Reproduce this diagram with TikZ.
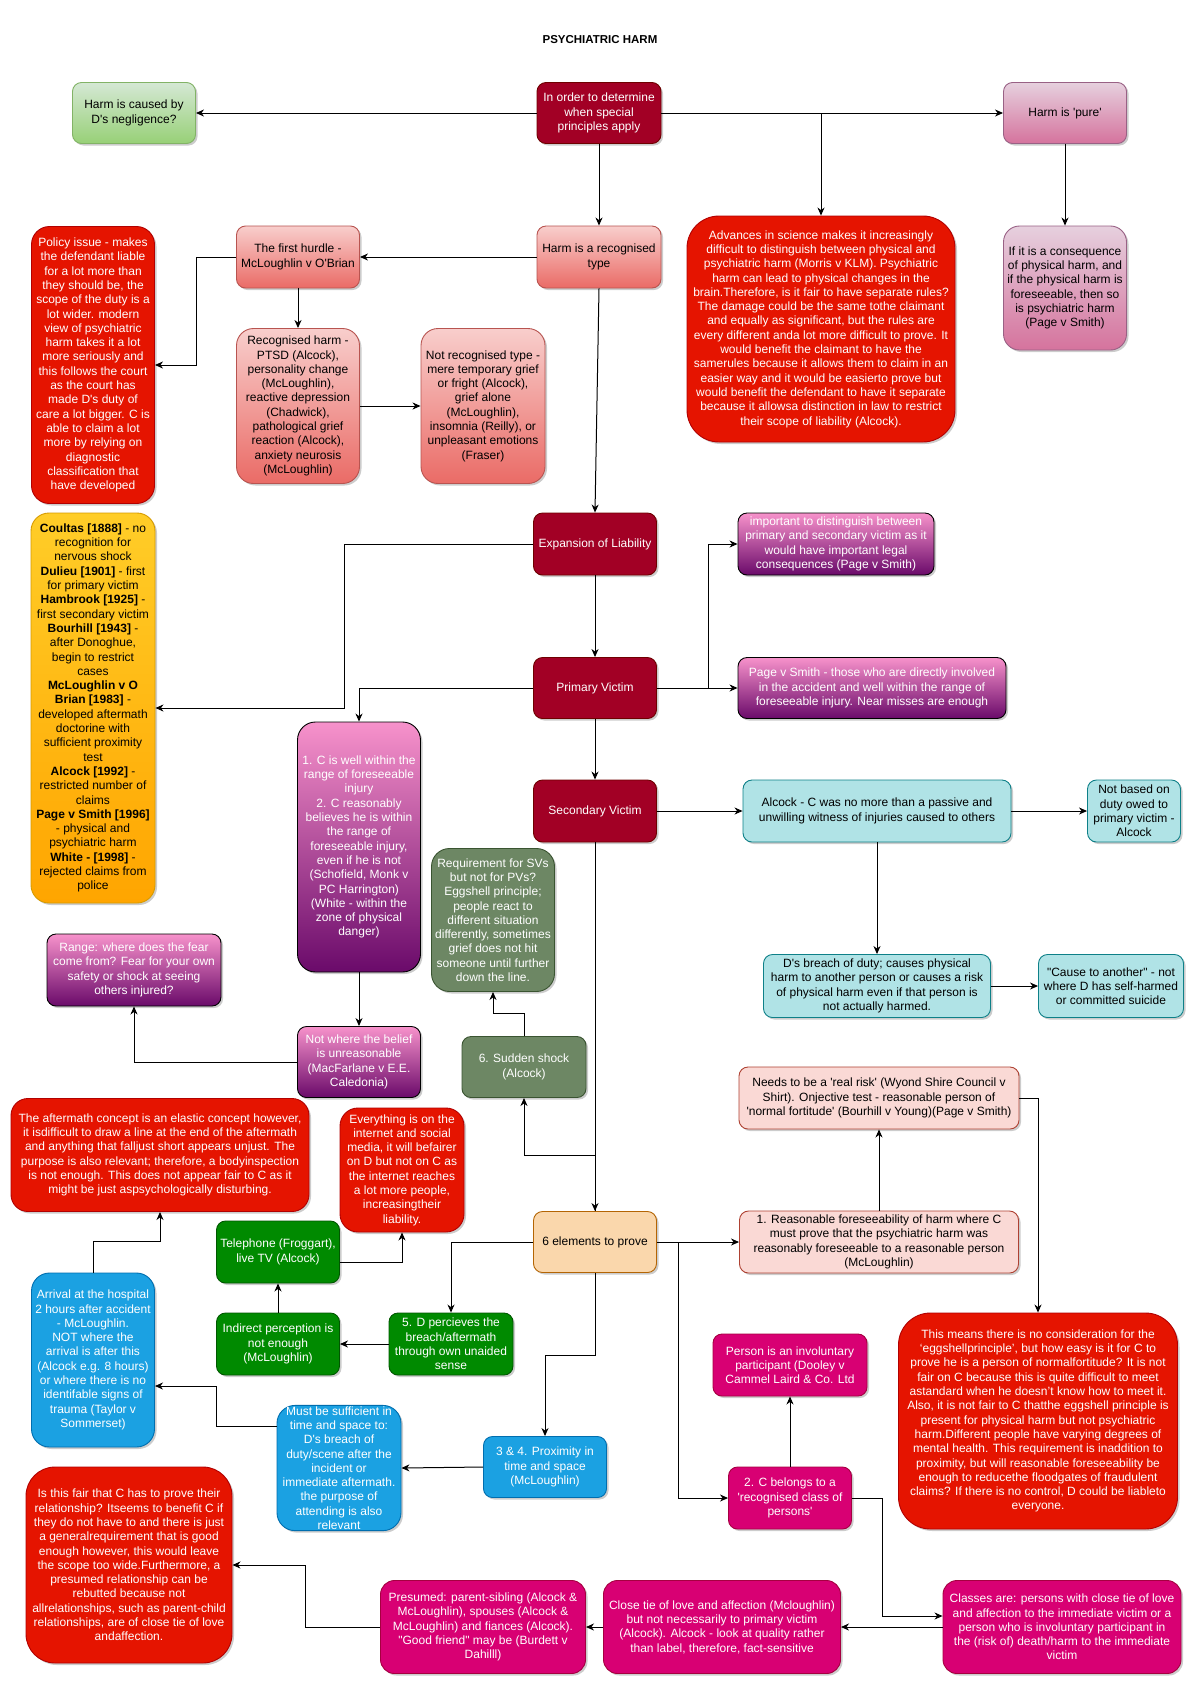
\documentclass[tikz,border=0pt]{standalone}
\usepackage{fontspec}
\newfontfamily\diafont{Liberation Sans}
\usetikzlibrary{arrows.meta,shadows}
% couleurs des boites
\definecolor{wine}{HTML}{A20025}   \definecolor{wineline}{HTML}{6F0000}
\definecolor{greenA}{HTML}{D5E8D4} \definecolor{greenB}{HTML}{97D077} \definecolor{greenL}{HTML}{82B366}
\definecolor{salA}{HTML}{F8CECC}   \definecolor{salB}{HTML}{EA6B66}   \definecolor{salL}{HTML}{B85450}
\definecolor{redF}{HTML}{E51400}   \definecolor{redL}{HTML}{B20000}
\definecolor{mauA}{HTML}{E6D0DE}   \definecolor{mauB}{HTML}{D5739D}   \definecolor{mauL}{HTML}{996185}
\definecolor{yelA}{HTML}{FFCD28}   \definecolor{yelB}{HTML}{FFA500}   \definecolor{yelL}{HTML}{D79B00}
\definecolor{pinkA}{HTML}{F792CB}  \definecolor{purpB}{HTML}{6A0A6A}
\definecolor{tealF}{HTML}{B0E3E6}  \definecolor{tealL}{HTML}{0E8088}
\definecolor{sageF}{HTML}{6D8764}  \definecolor{sageL}{HTML}{3A5431}
\definecolor{grnF}{HTML}{008A00}   \definecolor{grnL}{HTML}{005700}
\definecolor{bluF}{HTML}{1BA1E2}   \definecolor{bluL}{HTML}{006EAF}
\definecolor{peachF}{HTML}{FAD7AC} \definecolor{peachL}{HTML}{B46504}
\definecolor{roseF}{HTML}{FAD9D5}  \definecolor{roseL}{HTML}{AE4132}
\definecolor{magF}{HTML}{D80073}   \definecolor{magL}{HTML}{A50040}
\tikzset{
  bx/.style={draw,line width=0.9pt,align=center,inner sep=1pt,rounded corners=9pt,
    drop shadow={shadow xshift=2pt,shadow yshift=-2pt,fill=black,opacity=.2}},
  sz/.style 2 args={minimum width=#1pt,minimum height=#2pt},
  winebox/.style={bx,fill=wine,draw=wineline,text=white},
  greenbox/.style={bx,top color=greenA,bottom color=greenB,draw=greenL},
  salbox/.style={bx,top color=salA,bottom color=salB,draw=salL},
  redbox/.style={bx,fill=redF,draw=redL,text=white},
  maubox/.style={bx,top color=mauA,bottom color=mauB,draw=mauL},
  yelbox/.style={bx,top color=yelA,bottom color=yelB,draw=yelL},
  purpbox/.style={bx,top color=pinkA,bottom color=purpB,draw=black,text=white},
  tealbox/.style={bx,fill=tealF,draw=tealL},
  sagebox/.style={bx,fill=sageF,draw=sageL,text=white},
  grnbox/.style={bx,fill=grnF,draw=grnL,text=white},
  blubox/.style={bx,fill=bluF,draw=bluL,text=white},
  peachbox/.style={bx,fill=peachF,draw=peachL},
  rosebox/.style={bx,fill=roseF,draw=roseL},
  magbox/.style={bx,fill=magF,draw=magL,text=white},
  arr/.style={draw=black,line width=1pt,-{Stealth[length=8pt,width=7pt,inset=2.5pt]}},
}
\begin{document}
\begin{tikzpicture}[x=1pt,y=-1pt,font=\diafont\fontsize{12}{14.3}\selectfont]
\fill[white] (0,0) rectangle (1200,1698);
\useasboundingbox (0,0) rectangle (1200,1698);
\node[font=\diafont\bfseries\fontsize{11.5}{13}\selectfont] (title) at (600,40) {PSYCHIATRIC HARM};
% rangee du haut
\node[greenbox,sz={123}{61}] (neg) at (134,113) {Harm is caused by\\D's negligence?};
\node[winebox,sz={124}{61}] (start) at (599,113) {In order to determine\\when special\\principles apply};
\node[maubox,sz={123}{61}] (pure) at (1065,113) {Harm is 'pure'};
\node[maubox,sz={123}{124},rounded corners=16pt] (cons) at (1065,288)
  {If it is a consequence\\of physical harm, and\\if the physical harm is\\foreseeable, then so\\is psychiatric harm\\(Page v Smith)};
\node[redbox,sz={268}{226},rounded corners=32pt] (adv) at (821,329)
  {Advances in science makes it increasingly\\difficult to distinguish between physical and\\psychiatric harm (Morris v KLM). Psychiatric\\harm can lead to physical changes in the\\brain.Therefore, is it fair to have separate rules?\\The damage could be the same tothe claimant\\and equally as significant, but the rules are\\every different anda lot more difficult to prove. It\\would benefit the claimant to have the\\samerules because it allows them to claim in an\\easier way and it would be easierto prove but\\would benefit the defendant to have it separate\\because it allowsa distinction in law to restrict\\their scope of liability (Alcock).};
\node[salbox,sz={124}{62}] (recog) at (599,257) {Harm is a recognised\\type};
\node[salbox,sz={123}{62}] (hurdle) at (298,257) {The first hurdle -\\McLoughlin v O'Brian};
\node[redbox,sz={123}{277},rounded corners=18pt] (policy) at (93,365)
  {Policy issue - makes\\the defendant liable\\for a lot more than\\they should be, the\\scope of the duty is a\\lot wider. modern\\view of psychiatric\\harm takes it a lot\\more seriously and\\this follows the court\\as the court has\\made D's duty of\\care a lot bigger. C is\\able to claim a lot\\more by relying on\\diagnostic\\classification that\\have developed};
\node[salbox,sz={123}{155},rounded corners=17pt] (rharm) at (298,406)
  {Recognised harm -\\PTSD (Alcock),\\personality change\\(McLoughlin),\\reactive depression\\(Chadwick),\\pathological grief\\reaction (Alcock),\\anxiety neurosis\\(McLoughlin)};
\node[salbox,sz={124}{155},rounded corners=17pt] (nrharm) at (483,406)
  {Not recognised type -\\mere temporary grief\\or fright (Alcock),\\grief alone\\(McLoughlin),\\insomnia (Reilly), or\\unpleasant emotions\\(Fraser)};
% expansion et victimes
\node[winebox,sz={123}{62}] (expand) at (595,544) {Expansion of Liability};
\node[yelbox,sz={124}{390},rounded corners=18pt] (hist) at (93,708)
  {\textbf{Coultas [1888]} - no\\recognition for\\nervous shock\\\textbf{Dulieu [1901]} - first\\for primary victim\\\textbf{Hambrook [1925]} -\\first secondary victim\\\textbf{Bourhill [1943]} -\\after Donoghue,\\begin to restrict\\cases\\\textbf{McLoughlin v O}\\\textbf{Brian [1983]} -\\developed aftermath\\doctorine with\\sufficient proximity\\test\\\textbf{Alcock [1992]} -\\restricted number of\\claims\\\textbf{Page v Smith [1996]}\\- physical and\\psychiatric harm\\\textbf{White - [1998]} -\\rejected claims from\\police};
\node[purpbox,sz={196}{62}] (important) at (836,544)
  {important to distinguish between\\primary and secondary victim as it\\would have important legal\\consequences (Page v Smith)};
\node[winebox,sz={123}{61}] (primary) at (595,688) {Primary Victim};
\node[purpbox,sz={268}{61}] (pvs) at (872,688)
  {Page v Smith - those who are directly involved\\in the accident and well within the range of\\foreseeable injury. Near misses are enough};
\node[purpbox,sz={123}{250},rounded corners=18pt] (pvcond) at (359,847)
  {1. C is well within the\\range of foreseeable\\injury\\2. C reasonably\\believes he is within\\the range of\\foreseeable injury,\\even if he is not\\(Schofield, Monk v\\PC Harrington)\\(White - within the\\zone of physical\\danger)};
\node[winebox,sz={123}{62}] (secondary) at (595,811) {Secondary Victim};
\node[tealbox,sz={268}{62}] (alcock) at (877,811)
  {Alcock - C was no more than a passive and\\unwilling witness of injuries caused to others};
\node[tealbox,sz={93}{62}] (notbased) at (1134,811) {Not based on\\duty owed to\\primary victim -\\Alcock};
\node[sagebox,sz={123}{143},rounded corners=18pt] (req) at (493,920)
  {Requirement for SVs\\but not for PVs?\\Eggshell principle;\\people react to\\different situation\\differently, sometimes\\grief does not hit\\someone until further\\down the line.};
\node[tealbox,sz={227}{63}] (breach) at (877,986)
  {D's breach of duty; causes physical\\harm to another person or causes a risk\\of physical harm even if that person is\\not actually harmed.};
\node[tealbox,sz={145}{63}] (cause) at (1111,986) {"Cause to another" - not\\where D has self-harmed\\or committed suicide};
\node[purpbox,sz={174}{72}] (range) at (134,970)
  {Range: where does the fear\\come from? Fear for your own\\safety or shock at seeing\\others injured?};
\node[purpbox,sz={123}{71}] (notwhere) at (359,1062) {Not where the belief\\is unreasonable\\(MacFarlane v E.E.\\Caledonia)};
\node[sagebox,sz={124}{61}] (shock) at (524,1067) {6. Sudden shock\\(Alcock)};
\node[rosebox,sz={280}{62}] (needs) at (879,1098)
  {Needs to be a 'real risk' (Wyond Shire Council v\\Shirt). Onjective test - reasonable person of\\'normal fortitude' (Bourhill v Young)(Page v Smith)};
% les six elements
\node[redbox,sz={298}{113},rounded corners=17pt] (after) at (160,1155)
  {The aftermath concept is an elastic concept however,\\it isdifficult to draw a line at the end of the aftermath\\and anything that falljust short appears unjust. The\\purpose is also relevant; therefore, a bodyinspection\\is not enough. This does not appear fair to C as it\\might be just aspsychologically disturbing.};
\node[redbox,sz={124}{124},rounded corners=18pt] (every) at (402,1170)
  {Everything is on the\\internet and social\\media, it will befairer\\on D but not on C as\\the internet reaches\\a lot more people,\\increasingtheir\\liability.};
\node[peachbox,sz={123}{61}] (six) at (595,1242) {6 elements to prove};
\node[rosebox,sz={279}{62}] (reason) at (879,1242)
  {1. Reasonable foreseeability of harm where C\\must prove that the psychiatric harm was\\reasonably foreseeable to a reasonable person\\(McLoughlin)};
\node[grnbox,sz={123}{62}] (tel) at (278,1252) {Telephone (Froggart),\\live TV (Alcock)};
\node[grnbox,sz={123}{62}] (indirect) at (278,1344) {Indirect perception is\\not enough\\(McLoughlin)};
\node[grnbox,sz={124}{62}] (percv) at (451,1344) {5. D percieves the\\breach/aftermath\\through own unaided\\sense};
\node[blubox,sz={123}{174},rounded corners=18pt] (arrival) at (93,1360)
  {Arrival at the hospital\\2 hours after accident\\- McLoughlin.\\NOT where the\\arrival is after this\\(Alcock e.g. 8 hours)\\or where there is no\\identifable signs of\\trauma (Taylor v\\Sommerset)};
\node[redbox,sz={279}{216},rounded corners=32pt] (means) at (1038,1421)
  {This means there is no consideration for the\\‘eggshellprinciple’, but how easy is it for C to\\prove he is a person of normalfortitude? It is not\\fair on C because this is quite difficult to meet\\astandard when he doesn’t know how to meet it.\\Also, it is not fair to C thatthe eggshell principle is\\present for physical harm but not psychiatric\\harm.Different people have varying degrees of\\mental health. This requirement is inaddition to\\proximity, but will reasonable foreseeability be\\enough to reducethe floodgates of fraudulent\\claims? If there is no control, D could be liableto\\everyone.};
\node[magbox,sz={154}{62}] (person) at (790,1365) {Person is an involuntary\\participant (Dooley v\\Cammel Laird \& Co. Ltd};
\node[blubox,sz={124}{124},rounded corners=18pt] (must) at (339,1468)
  {Must be sufficient in\\time and space to:\\D's breach of\\duty/scene after the\\incident or\\immediate aftermath.\\the purpose of\\attending is also\\relevant};
\node[blubox,sz={123}{61}] (prox) at (545,1467) {3 \& 4. Proximity in\\time and space\\(McLoughlin)};
\node[magbox,sz={123}{62}] (belongs) at (790,1498) {2. C belongs to a\\'recognised class of\\persons'};
\node[redbox,sz={206}{196},rounded corners=29pt] (fair) at (129,1565)
  {Is this fair that C has to prove their\\relationship? Itseems to benefit C if\\they do not have to and there is just\\a generalrequirement that is good\\enough however, this would leave\\the scope too wide.Furthermore, a\\presumed relationship can be\\rebutted because not\\allrelationships, such as parent-child\\relationships, are of close tie of love\\andaffection.};
\node[magbox,sz={205}{93},rounded corners=14pt] (presumed) at (483,1627)
  {Presumed: parent-sibling (Alcock \&\\McLoughlin), spouses (Alcock \&\\McLoughlin) and fiances (Alcock).\\"Good friend" may be (Burdett v\\Dahilll)};
\node[magbox,sz={237}{93},rounded corners=14pt] (close) at (722,1627)
  {Close tie of love and affection (Mcloughlin)\\but not necessarily to primary victim\\(Alcock). Alcock - look at quality rather\\than label, therefore, fact-sensitive};
\node[magbox,sz={238}{93},rounded corners=14pt] (classes) at (1062,1627)
  {Classes are: persons with close tie of love\\and affection to the immediate victim or a\\person who is involuntary participant in\\the (risk of) death/harm to the immediate\\victim};
% fleches droites
\foreach \a/\b in {start/recog,pure/cons,hurdle/rharm,recog/expand,expand/primary,
  primary/secondary,alcock/breach,secondary/six,pvcond/notwhere}
  \draw[arr] (\a.south) -- (\b.north);
\foreach \a/\b in {reason/needs,belongs/person,indirect/tel}
  \draw[arr] (\a.north) -- (\b.south);
\foreach \a/\b in {start/pure,rharm/nrharm,primary/pvs,secondary/alcock,alcock/notbased,
  breach/cause,six/reason}
  \draw[arr] (\a.east) -- (\b.west);
\foreach \a/\b in {start/neg,recog/hurdle,close/presumed,classes/close,percv/indirect,prox/must}
  \draw[arr] (\a.west) -- (\b.east);
% fleches coudees
\draw[arr] (adv.north |- start.east) -- (adv.north);
\draw[arr] (hurdle.west) -- ++(-40,0) |- (policy.east);
\draw[arr] (expand.west) -- ++(-189,0) |- (hist.east);
\draw[arr] (primary.west) -| (pvcond.north);
\draw[arr] (primary.east) -- ++(52,0) |- (important.west);
\draw[arr] (six.north) -- ++(0,-56) -| (shock.south);
\draw[arr] (shock.north) -- ++(0,-23) -| (req.south);
\draw[arr] (notwhere.west) -| (range.south);
\draw[arr] (needs.east) -| (means.north);
\draw[arr] (six.west) -| (percv.north);
\draw[arr] (six.south) -- ++(0,83) -| (prox.north);
\draw[arr] (six.east) -- ++(22,0) |- (belongs.west);
\draw[arr] (belongs.east) -- ++(31,0) |- ([yshift=11pt]classes.west);
\draw[arr] (presumed.west) -- ++(-75,0) |- (fair.east);
\draw[arr] ([yshift=42pt]must.west) -- ++(-60,0) |- ([yshift=-26pt]arrival.east);
\draw[arr] ([yshift=-10pt]tel.east) -| (every.south);
\draw[arr] (arrival.north) -- ++(0,-31) -| (after.south);
\end{tikzpicture}
\end{document}
